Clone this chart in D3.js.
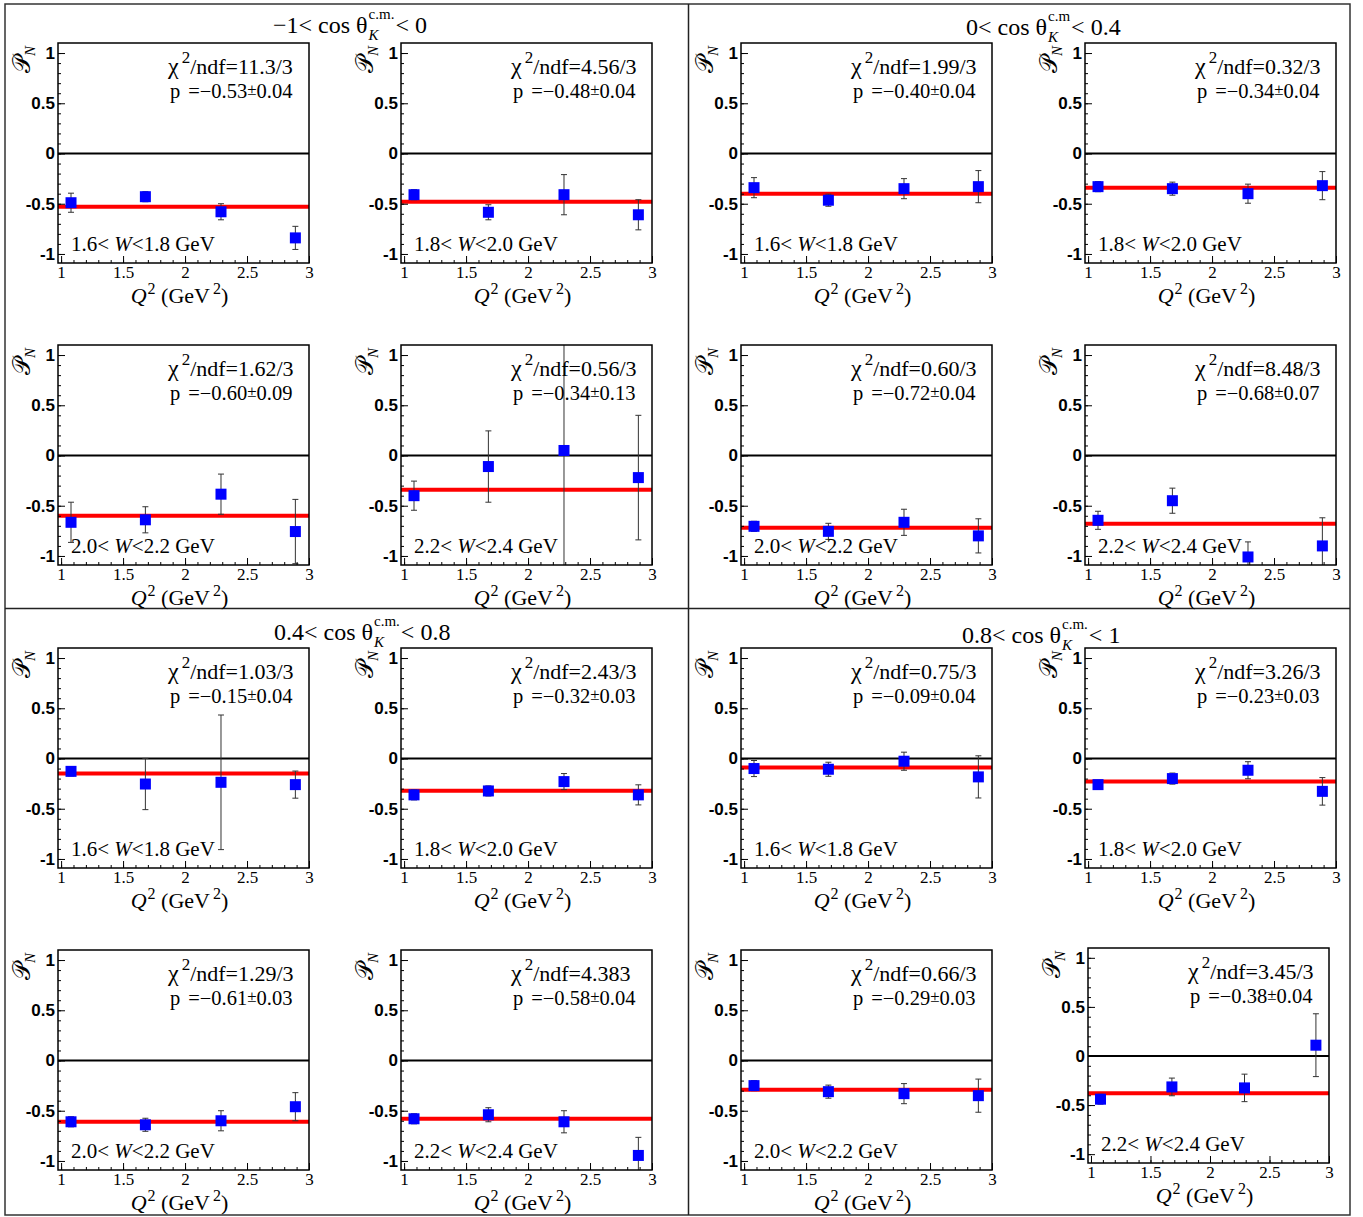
<!DOCTYPE html>
<html>
<head>
<meta charset="utf-8">
<script src="https://cdn.jsdelivr.net/npm/d3@7"></script>
<style>
body { margin: 0; background: #fff; }
</style>
</head>
<body>
<svg id="chart" width="1363" height="1217" font-family="Liberation Serif, Times New Roman, serif"></svg>
<script>
// ---- data (panel order: cos bin q, then W bin w => index q*4+w) ----
const q2 = [1.08, 1.68, 2.29, 2.89];

const cosLow = ["\u22121", "0", "0.4", "0.8"];
const cosHigh = ["0", "0.4", "0.8", "1"];
const cmLabel = ["c.m.", "c.m", "c.m.", "c.m."];

const wLow = ["1.6", "1.8", "2.0", "2.2"];
const wHigh = ["1.8", "2.0", "2.2", "2.4"];

const chi2 = [
  "11.3/3", "4.56/3", "1.62/3", "0.56/3",
  "1.99/3", "0.32/3", "0.60/3", "8.48/3",
  "1.03/3", "2.43/3", "1.29/3", "4.383",
  "0.75/3", "3.26/3", "0.66/3", "3.45/3"
];
const fitP = [
  -0.53, -0.48, -0.60, -0.34,
  -0.40, -0.34, -0.72, -0.68,
  -0.15, -0.32, -0.61, -0.58,
  -0.09, -0.23, -0.29, -0.38
];
const fitErr = [
  "0.04", "0.04", "0.09", "0.13",
  "0.04", "0.04", "0.04", "0.07",
  "0.04", "0.03", "0.03", "0.04",
  "0.04", "0.03", "0.03", "0.04"
];

const pnVal = [
  [-0.49, -0.43, -0.58, -0.84],
  [-0.41, -0.585, -0.41, -0.61],
  [-0.665, -0.64, -0.385, -0.757],
  [-0.40, -0.11, 0.05, -0.22],
  [-0.34, -0.465, -0.35, -0.33],
  [-0.33, -0.35, -0.40, -0.32],
  [-0.705, -0.755, -0.665, -0.80],
  [-0.645, -0.45, -1.01, -0.90],
  [-0.128, -0.254, -0.237, -0.26],
  [-0.362, -0.323, -0.23, -0.362],
  [-0.61, -0.64, -0.60, -0.46],
  [-0.58, -0.54, -0.61, -0.945],
  [-0.10, -0.107, -0.027, -0.183],
  [-0.26, -0.20, -0.117, -0.327],
  [-0.25, -0.31, -0.33, -0.35],
  [-0.44, -0.315, -0.325, 0.11]
];
const pnErr = [
  [0.095, 0.05, 0.08, 0.115],
  [0.05, 0.075, 0.2, 0.15],
  [0.2, 0.13, 0.2, 0.32],
  [0.145, 0.355, 1.3, 0.62],
  [0.1, 0.06, 0.1, 0.16],
  [0.05, 0.065, 0.095, 0.14],
  [0.05, 0.08, 0.13, 0.17],
  [0.09, 0.125, 0.15, 0.28],
  [0.045, 0.255, 0.67, 0.135],
  [0.05, 0.05, 0.08, 0.1],
  [0.05, 0.065, 0.1, 0.14],
  [0.05, 0.07, 0.11, 0.18],
  [0.08, 0.07, 0.09, 0.21],
  [0.03, 0.055, 0.085, 0.137],
  [0.05, 0.065, 0.1, 0.165],
  [0.05, 0.09, 0.14, 0.32]
];

const yMajor = [-1, -0.5, 0, 0.5, 1];
const yMinor = d3.range(-10, 11).map(k => k / 10);
const xMajor = [1, 1.5, 2, 2.5, 3];
const xMinor = d3.range(10, 31).map(k => k / 10);

// ---- layout ----
const colX = [58, 401, 741, 1085];
const rowY = [43, 345, 648, 950];
const frameW = 251, frameH = 220;
const titleX = [273, 966, 274, 962];
const titleY = [33, 35, 640, 643];

const svg = d3.select("#chart");

// outer border and quadrant dividers
svg.append("rect").attr("x", 5).attr("y", 4).attr("width", 1345).attr("height", 1211)
  .attr("fill", "none").attr("stroke", "#333").attr("stroke-width", 1.5);
svg.append("line").attr("x1", 688.5).attr("x2", 688.5).attr("y1", 4).attr("y2", 1215)
  .attr("stroke", "#222").attr("stroke-width", 1.5);
svg.append("line").attr("x1", 5).attr("x2", 1350).attr("y1", 608.5).attr("y2", 608.5)
  .attr("stroke", "#222").attr("stroke-width", 1.5);

function panelBox(q, w) {
  const row = Math.floor(q / 2) * 2 + Math.floor(w / 2);
  const col = (q % 2) * 2 + (w % 2);
  if (row === 3 && col === 3) return { x: 1088, y: 948, w: 241, h: 215 };
  return { x: colX[col], y: rowY[row], w: frameW, h: frameH };
}

// quadrant titles: a< cos θ_K^{c.m.}< b
function drawTitle(q) {
  const t = svg.append("g").attr("transform", `translate(${titleX[q]},${titleY[q]})`);
  const a = t.append("text").attr("font-size", 24).text(`${cosLow[q]}< cos \u03b8`);
  const w1 = a.node().getComputedTextLength();
  const sup = t.append("text").attr("x", w1 + 1).attr("y", -14).attr("font-size", 15).text(cmLabel[q]);
  t.append("text").attr("x", w1 + 1).attr("y", 7).attr("font-size", 15)
    .attr("font-style", "italic").text("K");
  const w2 = sup.node().getComputedTextLength();
  t.append("text").attr("x", w1 + w2 + 2).attr("font-size", 24).text(`< ${cosHigh[q]}`);
}

function drawPanel(q, w) {
  const i = q * 4 + w;
  const b = panelBox(q, w);
  const g = svg.append("g").attr("transform", `translate(${b.x},${b.y})`);

  const x = d3.scaleLinear().domain([0.975, 3.0]).range([0, b.w]);
  const y = d3.scaleLinear().domain([-1.09, 1.1]).range([b.h, 0]);

  g.append("clipPath").attr("id", `clip${i}`)
    .append("rect").attr("width", b.w).attr("height", b.h);
  const plot = g.append("g").attr("clip-path", `url(#clip${i})`);

  // zero line and constant fit
  plot.append("line").attr("x1", 0).attr("x2", b.w).attr("y1", y(0)).attr("y2", y(0))
    .attr("stroke", "#000").attr("stroke-width", 2);
  plot.append("line").attr("x1", 0).attr("x2", b.w).attr("y1", y(fitP[i])).attr("y2", y(fitP[i]))
    .attr("stroke", "#ff0000").attr("stroke-width", 4);

  const pts = q2.map((v, j) => ({ x: v, y: pnVal[i][j], e: pnErr[i][j] }));

  // error bars with small caps
  plot.selectAll(".bar").data(pts).enter().append("line")
    .attr("x1", d => x(d.x)).attr("x2", d => x(d.x))
    .attr("y1", d => y(d.y + d.e)).attr("y2", d => y(d.y - d.e))
    .attr("stroke", "#333").attr("stroke-width", 1);
  ["top", "bot"].forEach(side => {
    plot.selectAll(".cap-" + side).data(pts).enter().append("line")
      .attr("x1", d => x(d.x) - 3).attr("x2", d => x(d.x) + 3)
      .attr("y1", d => y(side === "top" ? d.y + d.e : d.y - d.e))
      .attr("y2", d => y(side === "top" ? d.y + d.e : d.y - d.e))
      .attr("stroke", "#333").attr("stroke-width", 1);
  });

  // markers
  plot.selectAll("rect.pt").data(pts).enter().append("rect")
    .attr("x", d => x(d.x) - 5.5).attr("y", d => y(d.y) - 5.5)
    .attr("width", 11).attr("height", 11)
    .attr("fill", "#0000ff");

  // axes (ticks pointing inward)
  const yAx = g.append("g").call(d3.axisLeft(y).tickValues(yMajor).tickSize(-7).tickPadding(3)
    .tickFormat(d => String(d)));
  g.append("g").call(d3.axisLeft(y).tickValues(yMinor).tickSize(-3).tickFormat(""));
  const xAx = g.append("g").attr("transform", `translate(0,${b.h})`)
    .call(d3.axisBottom(x).tickValues(xMajor).tickSize(-7).tickPadding(3)
      .tickFormat(d => String(d)));
  g.append("g").attr("transform", `translate(0,${b.h})`)
    .call(d3.axisBottom(x).tickValues(xMinor).tickSize(-3).tickFormat(""));
  g.selectAll(".domain").remove();
  g.selectAll(".tick line").attr("stroke", "#000");
  yAx.selectAll("text").attr("font-family", "Liberation Sans, Arial, sans-serif")
    .attr("font-weight", "bold").attr("font-size", 17);
  xAx.selectAll("text").attr("font-family", "Liberation Serif, serif").attr("font-size", 17);

  // frame
  g.append("rect").attr("width", b.w).attr("height", b.h)
    .attr("fill", "none").attr("stroke", "#000").attr("stroke-width", 1.5);

  // fit statistics
  const chi = g.append("text").attr("x", b.w - 141).attr("y", 31).attr("font-size", 22);
  chi.append("tspan").attr("font-size", 24).text("\u03c7");
  chi.append("tspan").attr("dx", 3).attr("dy", -11).attr("font-size", 17).text("2");
  chi.append("tspan").attr("dy", 11).text(`/ndf=${chi2[i]}`);

  const pl = g.append("text").attr("x", b.w - 139).attr("y", 55).attr("font-size", 20.5);
  pl.append("tspan").text("p");
  pl.append("tspan").attr("dx", 8).text(`=\u2212${Math.abs(fitP[i]).toFixed(2)}`);
  pl.append("tspan").attr("dy", -3).attr("font-size", 17).text("\u00b1");
  pl.append("tspan").attr("dy", 3).text(fitErr[i]);

  // W bin label
  const wl = g.append("text").attr("x", 13).attr("y", b.h - 12).attr("font-size", 21);
  wl.append("tspan").text(`${wLow[w]}< `);
  wl.append("tspan").attr("font-style", "italic").text("W");
  wl.append("tspan").text(`<${wHigh[w]} GeV`);

  // y title
  const yt = g.append("text").attr("transform", `translate(-28,3) rotate(-90)`)
    .attr("text-anchor", "end").attr("font-size", 24);
  yt.append("tspan").attr("font-family", "DejaVu Serif, DejaVu Sans, serif").text("\ud835\udcab");
  yt.append("tspan").attr("dy", 5).attr("font-size", 15).attr("font-style", "italic").text("N");

  // x title
  const xt = g.append("text").attr("x", b.w / 2 - 4).attr("y", b.h + 40)
    .attr("text-anchor", "middle").attr("font-size", 22);
  xt.append("tspan").attr("font-style", "italic").text("Q");
  xt.append("tspan").attr("dx", 1).attr("dy", -9).attr("font-size", 16).text("2");
  xt.append("tspan").attr("dy", 9).attr("xml:space", "preserve").text(" (GeV");
  xt.append("tspan").attr("dx", 3).attr("dy", -9).attr("font-size", 16).text("2");
  xt.append("tspan").attr("dy", 9).text(")");
}

for (let q = 0; q < 4; q++) {
  drawTitle(q);
  for (let w = 0; w < 4; w++) drawPanel(q, w);
}
</script>
</body>
</html>
